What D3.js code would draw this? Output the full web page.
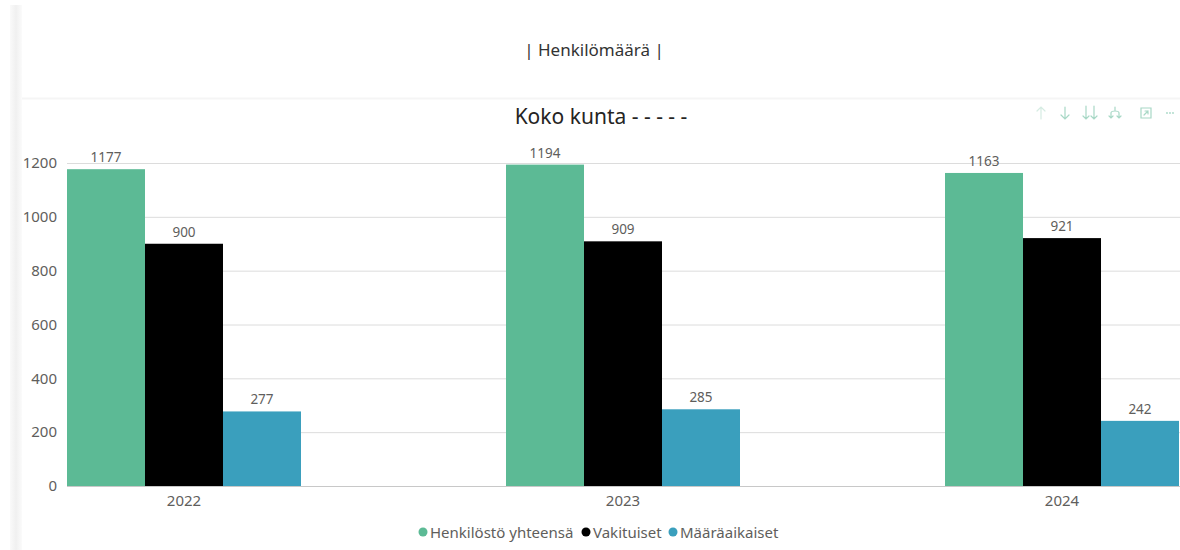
<!DOCTYPE html>
<html><head><meta charset="utf-8">
<script src="https://cdn.jsdelivr.net/npm/d3@7"></script>
<style>
html,body{margin:0;padding:0;background:#fff;}
svg{display:block;font-family:"Noto Sans","Open Sans",sans-serif;}
</style></head>
<body>
<svg id="c" width="1180" height="550"></svg>
<script>
const years = ["2022", "2023", "2024"];
const seriesNames = ["Henkilöstö yhteensä", "Vakituiset", "Määräaikaiset"];
const seriesColors = ["#5cba95", "#000000", "#3a9fbd"];
const totalValues = [1177, 1194, 1163];
const permanentValues = [900, 909, 921];
const fixedTermValues = [277, 285, 242];
const yTicks = [0, 200, 400, 600, 800, 1000, 1200];
const pageTitle = "| Henkilömäärä |";
const chartTitle = "Koko kunta - - - - -";

const seriesValues = [totalValues, permanentValues, fixedTermValues];
const svg = d3.select("#c");

// background strip on left
const grad = svg.append("defs").append("linearGradient").attr("id","strip");
grad.append("stop").attr("offset","0").attr("stop-color","#fafafa");
grad.append("stop").attr("offset","0.5").attr("stop-color","#f0f0f0");
grad.append("stop").attr("offset","1").attr("stop-color","#fbfbfb");
svg.append("rect").attr("x",10).attr("y",5).attr("width",12).attr("height",545).attr("fill","url(#strip)");
svg.append("line").attr("x1",22).attr("x2",1180).attr("y1",98.5).attr("y2",98.5).attr("stroke","#f5f5f5").attr("stroke-width",2);

svg.append("text").attr("x",594).attr("y",56).attr("text-anchor","middle")
  .attr("font-size",17).attr("fill","#333").text(pageTitle);
svg.append("text").attr("x",601).attr("y",124).attr("text-anchor","middle")
  .attr("font-size",21).attr("fill","#252423").text(chartTitle);

// icons (visual header)
const ic = svg.append("g").attr("fill","none").attr("stroke","#a8d8c6").attr("stroke-width",1.2).attr("stroke-linecap","round");
ic.append("path").attr("d","M1041,107V119M1037,111L1041,107L1045,111").attr("stroke","#d6ece3");
ic.append("path").attr("d","M1065,107V119M1061,115L1065,119L1069,115");
ic.append("path").attr("d","M1086,106V119M1083,116L1086,119L1089,116M1094,106V119M1091,116L1094,119L1097,116");
ic.append("path").attr("d","M1115,107V111M1111,118V113Q1111,111 1115,111Q1119,111 1119,113V118M1109,116L1111,118L1113,116M1117,116L1119,118L1121,116");
ic.append("path").attr("d","M1141,108H1151V118H1141ZM1144,115L1148,111M1145,111H1148V114");
ic.append("g").selectAll("circle").data([1167,1170,1173]).join("circle")
  .attr("cx",d=>d).attr("cy",113).attr("r",0.9).attr("fill","#a8d8c6").attr("stroke","none");

const plotLeft = 67, plotRight = 1179, plotTop = 163, plotBottom = 486;
const y = d3.scaleLinear().domain([0,1200]).range([plotBottom, plotTop]);
const x0 = d3.scaleBand().domain(years).range([plotLeft, plotRight]).paddingInner(0.467).paddingOuter(0);
const x1 = d3.scaleBand().domain(seriesNames).range([0, x0.bandwidth()]).padding(0);

// gridlines
const yAxis = d3.axisLeft(y).tickValues(yTicks).tickFormat(d3.format("d")).tickSize(-(1180-plotLeft)).tickPadding(10);
const ga = svg.append("g").attr("transform",`translate(${plotLeft},0)`).call(yAxis);
ga.select(".domain").remove();
ga.selectAll(".tick line").attr("stroke","#dcdcdc").attr("stroke-width",1);
ga.selectAll(".tick text").attr("font-size",15).attr("fill","#605e5c").attr("font-family","'Noto Sans',sans-serif");

// bars
const groups = svg.append("g").selectAll("g").data(years).join("g")
  .attr("transform", d=>`translate(${x0(d)},0)`);
groups.each(function(yr, yi){
  const g = d3.select(this);
  seriesNames.forEach((s, si)=>{
    const v = seriesValues[si][yi];
    g.append("rect").attr("x", x1(s)).attr("width", x1.bandwidth())
      .attr("y", y(v)).attr("height", y(0)-y(v)).attr("fill", seriesColors[si]);
    g.append("text").attr("x", x1(s)+x1.bandwidth()/2).attr("y", y(v)-7)
      .attr("text-anchor","middle").attr("font-size",13.5).attr("fill","#605e5c").text(v);
  });
});

// x axis
const xAxis = d3.axisBottom(x0).tickSize(0).tickPadding(9);
const gx = svg.append("g").attr("transform",`translate(0,${plotBottom})`).call(xAxis);
gx.select(".domain").attr("stroke","#c8c8c8").attr("d",`M${plotLeft},0.5H1180`);
gx.selectAll(".tick text").attr("font-size",15).attr("fill","#605e5c").attr("font-family","'Noto Sans',sans-serif");

// legend
const legendX = [423, 586, 673];
const lg = svg.append("g");
seriesNames.forEach((s,i)=>{
  lg.append("circle").attr("cx",legendX[i]).attr("cy",532).attr("r",4.5).attr("fill",seriesColors[i]);
  lg.append("text").attr("x",legendX[i]+7).attr("y",537.5).attr("font-size",15).attr("fill","#605e5c").text(s);
});
</script>
</body></html>
